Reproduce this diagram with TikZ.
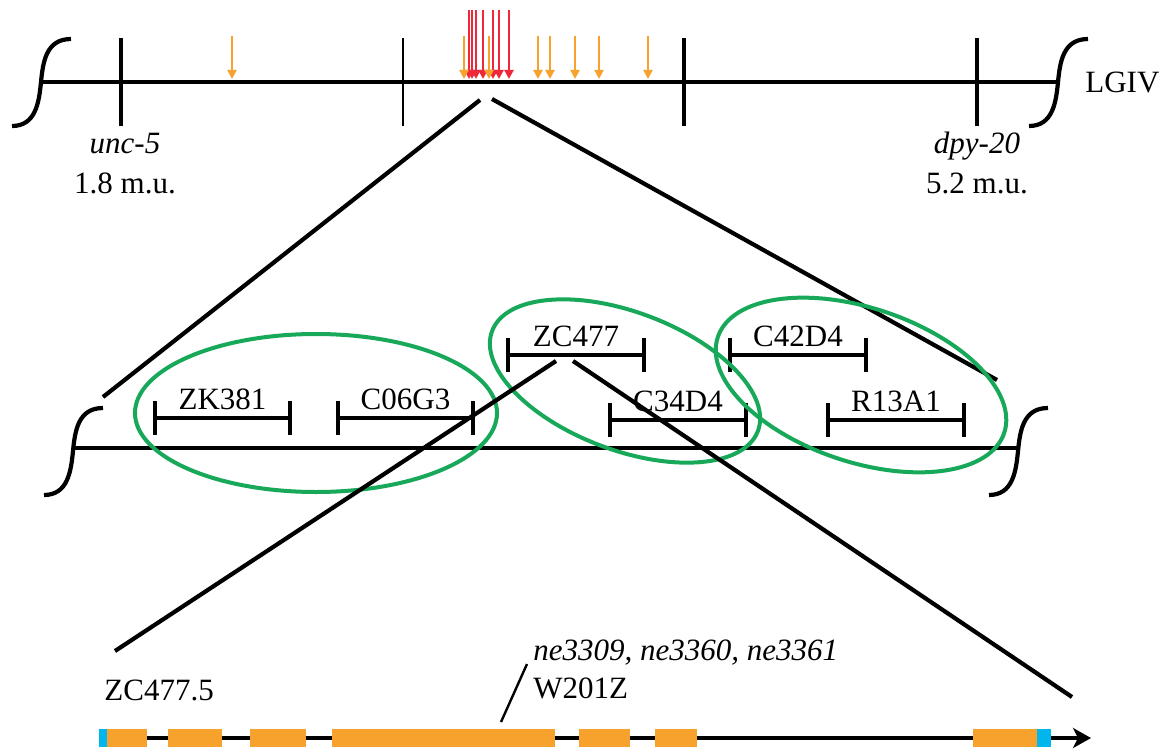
\documentclass[tikz,border=0pt]{standalone}
\usepackage{fontspec}
\setmainfont{Liberation Serif}
\usetikzlibrary{arrows.meta}
\definecolor{orng}{RGB}{246,162,44}
\definecolor{redar}{RGB}{238,40,58}
\definecolor{grn}{RGB}{24,168,90}
\definecolor{cyanb}{RGB}{0,182,236}
\tikzset{
  lbl/.style={inner sep=0pt, font=\fontsize{15.5pt}{18pt}\selectfont},
  chrom/.style={line width=2.2pt, black},
  tickthick/.style={line width=2.2pt, black},
  tickthin/.style={line width=1pt, black},
  zoomline/.style={line width=2.1pt, black},
  bracketbar/.style={line width=2.1pt, black},
  curlstyle/.style={line width=2.1pt, black},
  orangearr/.style={line width=1pt, orng, -{Triangle[length=4.5pt,width=4.5pt]}},
  redarrow/.style={line width=1.1pt, redar, -{Triangle[length=4.5pt,width=4.5pt]}},
  ellip/.style={line width=2pt, grn},
  exon/.style={fill=orng, draw=none},
  utr/.style={fill=cyanb, draw=none},
  geneline/.style={line width=2.1pt, black, -{Stealth[length=9pt,width=10pt,inset=2.5pt]}},
}
\newcommand{\curlat}[2]{%
  \draw[curlstyle] (#1-29,#2+44) .. controls (#1-5,#2+44) and (#1-2,#2+20) .. (#1,#2)
    .. controls (#1+2,#2-20) and (#1+5,#2-43) .. (#1+30,#2-43);}
\newcommand{\bracketat}[4]{% x1, x2, y, name
  \draw[bracketbar] (#1,#3) -- (#2,#3);
  \draw[bracketbar] (#1,#3-17) -- (#1,#3+17);
  \draw[bracketbar] (#2,#3-17) -- (#2,#3+17);
  \node[lbl, anchor=base] (#4) at ({(#1+#2)/2},#3-9) {#4};}
\begin{document}
\begin{tikzpicture}[x=0.5pt,y=-0.5pt]
\useasboundingbox[fill=white] (0,0) rectangle (1176,749);

% ---------- top chromosome ----------
\coordinate (topL) at (41,82);
\coordinate (topR) at (1058,82);
\draw[chrom] (topL) -- (topR);
\curlat{41}{82}
\curlat{1058}{82}
\draw[tickthick] (121,38) -- (121,126);
\draw[tickthin] (403,38) -- (403,126);
\draw[tickthick] (684,38) -- (684,126);
\draw[tickthick] (977,38) -- (977,126);

\foreach \x in {469,472,476,483,493,499,509} \draw[redarrow] (\x,10) -- (\x,79);
\foreach \x in {232,464,489,538,550,575,599,648} \draw[orangearr] (\x,36) -- (\x,79);

\node[lbl, anchor=base] (unc) at (125,153) {\textit{unc-5}};
\node[lbl, anchor=base] (uncmu) at (125,193) {1.8 m.u.};
\node[lbl, anchor=base] (dpy) at (977,153) {\textit{dpy-20}};
\node[lbl, anchor=base] (dpymu) at (977,193) {5.2 m.u.};
\node[lbl, anchor=base west] (lgiv) at (1085,92) {LGIV};

% zoom lines top -> middle
\coordinate (z1a) at (480,100);
\coordinate (z1b) at (103,397);
\coordinate (z2a) at (492,99);
\coordinate (z2b) at (997,380);
\draw[zoomline] (z1a) -- (z1b);
\draw[zoomline] (z2a) -- (z2b);

% ---------- middle contig map ----------
\coordinate (midL) at (73,448);
\coordinate (midR) at (1018,448);
\draw[chrom] (midL) -- (midR);
\curlat{73}{451}
\curlat{1018}{451}

\bracketat{155}{290}{418}{ZK381}
\bracketat{338}{473}{418}{C06G3}
\bracketat{508}{644}{355}{ZC477}
\bracketat{610}{746}{420}{C34D4}
\bracketat{730}{866}{355}{C42D4}
\bracketat{828}{964}{420}{R13A1}

\draw[ellip] (316,413) ellipse [x radius=181, y radius=79];
\draw[ellip, rotate around={-20.6:(625,381)}] (625,381) ellipse [x radius=142, y radius=69];
\draw[ellip, rotate around={-18.5:(861,385)}] (861,385) ellipse [x radius=151, y radius=77];

% zoom lines middle -> gene
\coordinate (z3a) at (556,361);
\coordinate (z3b) at (115,651);
\coordinate (z4a) at (573,361);
\coordinate (z4b) at (1072,697);
\draw[zoomline] (z3a) -- (z3b);
\draw[zoomline] (z4a) -- (z4b);

% ---------- gene model ----------
\coordinate (gs) at (99,738);
\coordinate (ge) at (1091,738);
\draw[geneline] (gs) -- (ge);
\fill[utr] (99,729) rectangle (107,747);
\foreach \a/\b in {107/147,168/222,250/306,332/555,579/630,655/697,973/1037}
  \fill[exon] (\a,729) rectangle (\b,747);
\fill[utr] (1037,729) rectangle (1051,747);

\node[lbl, anchor=base west] (zc5) at (104,700) {ZC477.5};
\node[lbl, anchor=base west] (mut) at (533,660) {\textit{ne3309, ne3360, ne3361}};
\node[lbl, anchor=base west] (w201) at (533,698) {W201Z};
\coordinate (s1) at (527,664);
\coordinate (s2) at (501,722);
\draw[line width=1.2pt] (s1) -- (s2);
\end{tikzpicture}
\end{document}
